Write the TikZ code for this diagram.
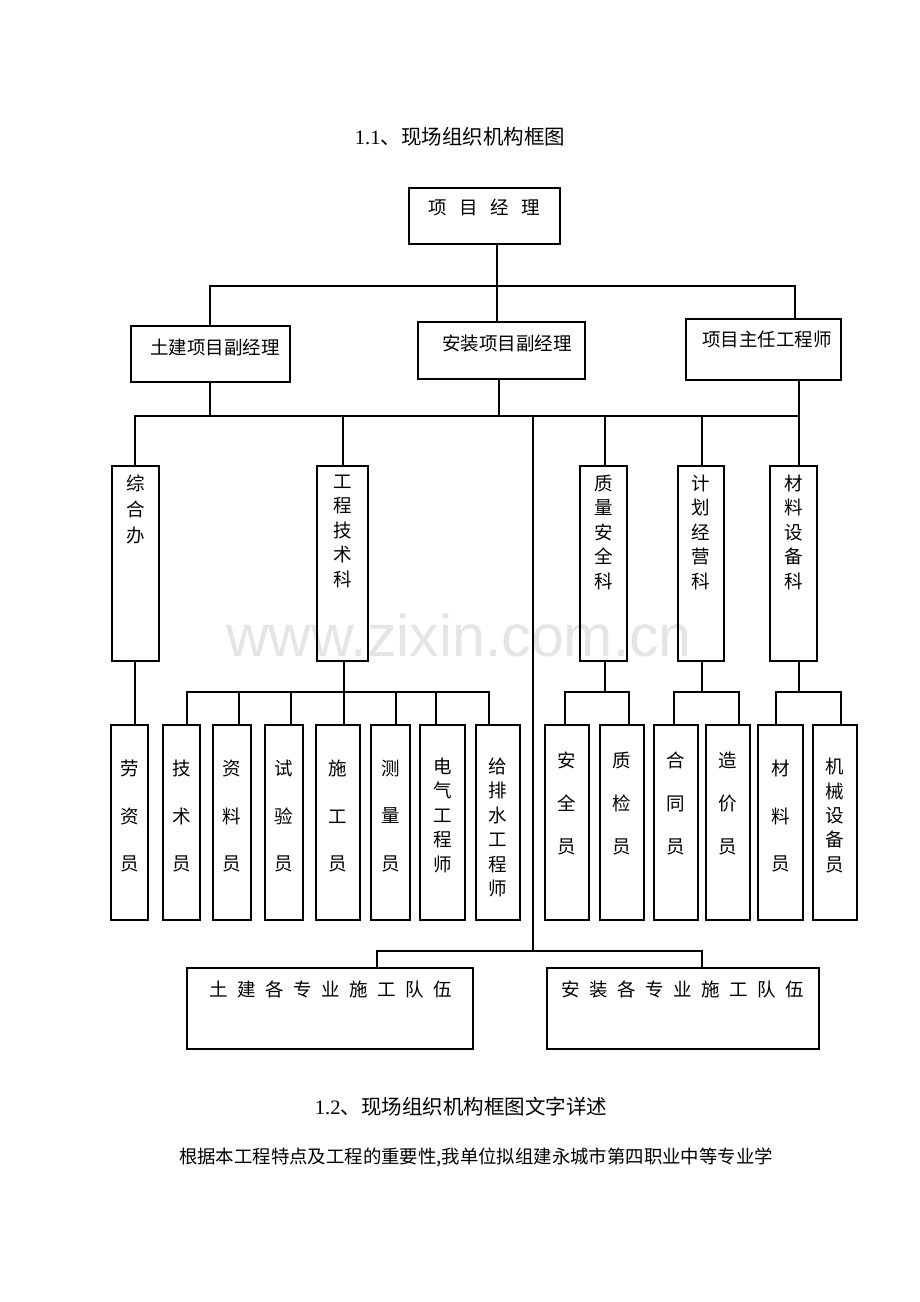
\documentclass[tikz,border=0pt]{standalone}
\usepackage{fontspec}
\setmainfont{Liberation Serif}
\newfontfamily\cjk{Noto Sans CJK SC}
\newfontfamily\wmfont{Liberation Sans}
\newcommand\kg{\hspace{12.5pt}} % spacing in 项目经理
\newcommand\kk{\hspace{9.5pt}}  % spacing in team names
\begin{document}
\begin{tikzpicture}[x=1pt, y=-1pt]
\tikzset{orgbox/.style={draw, line width=2.3pt, inner sep=0pt}, % frame of a post
  wire/.style={line width=1.9pt},                          % connector
  txt/.style={font=\cjk\fontsize{18.5}{22}\selectfont, inner sep=0pt},
  col/.style={inner sep=0pt, align=center, anchor=north, font=\cjk\fontsize{18.5}{#1}\selectfont}, % vertical text
  ttl/.style={inner sep=0pt, font=\fontsize{20.5}{24}\selectfont}}
\useasboundingbox[fill=white] (0,0) rectangle (920,1302);
\node[font=\wmfont\fontsize{59}{59}\selectfont, text=black!10] (wm) at (459,635) {www.zixin.com.cn};
% titles
\node[ttl] (t1) at (460,137) {1.1{\cjk 、现场组织机构框图}};
\node[ttl] (t2) at (461,1107) {1.2{\cjk 、现场组织机构框图文字详述}};
\node[txt, font=\cjk\fontsize{18.4}{22}\selectfont] (body) at (476,1157) {根据本工程特点及工程的重要性,我单位拟组建永城市第四职业中等专业学};
% level 1 and 2
\node[orgbox, minimum width=151pt, minimum height=56pt] (pm) at (484.5,216) {};
\node[txt] (pmt) at (484,207) {项\kg{}目\kg{}经\kg{}理};
\node[orgbox, minimum width=159pt, minimum height=56pt] (dep1) at (210.5,354) {};
\node[txt] (dep1t) at (215,347) {土建项目副经理};
\node[orgbox, minimum width=167pt, minimum height=57pt] (dep2) at (501.5,350.5) {};
\node[txt] (dep2t) at (507,343) {安装项目副经理};
\node[orgbox, minimum width=155pt, minimum height=61pt] (dep3) at (763.5,349.5) {};
\node[txt] (dep3t) at (767,339) {项目主任工程师};
% sections
\node[orgbox, minimum width=47pt, minimum height=195pt] (sec1) at (135.5,563.5) {};
\node[orgbox, minimum width=51pt, minimum height=195pt] (sec2) at (342.5,563.5) {};
\node[orgbox, minimum width=47pt, minimum height=195pt] (sec3) at (603.5,563.5) {};
\node[orgbox, minimum width=46pt, minimum height=195pt] (sec4) at (701,563.5) {};
\node[orgbox, minimum width=47pt, minimum height=195pt] (sec5) at (793.5,563.5) {};
\node[col=26] (sec1t) at ([yshift=-10pt]sec1.north) {综\\合\\办};
\node[col=24.4] (sec2t) at ([yshift=-10pt]sec2.north) {工\\程\\技\\术\\科};
\node[col=24.4] (sec3t) at ([yshift=-10pt]sec3.north) {质\\量\\安\\全\\科};
\node[col=24.4] (sec4t) at ([yshift=-10pt]sec4.north) {计\\划\\经\\营\\科};
\node[col=24.4] (sec5t) at ([yshift=-10pt]sec5.north) {材\\料\\设\\备\\科};
% staff
\foreach \n/\x/\w in {lz/129.5/37, js/181.5/37, zl/232/38, sy/284/38, sg/338/44, cl/390.5/39,
    dq/442.5/45, gps/498/44, aq/567/44, zj/622/44, ht/676/44, zj2/728/44, cly/780.5/45, jx/835/44}
  \node[orgbox, minimum width=\w pt, minimum height=195pt] (\n) at (\x,822.5) {};
\foreach \n/\t in {lz/劳\\资\\员, js/技\\术\\员, zl/资\\料\\员, sy/试\\验\\员, sg/施\\工\\员, cl/测\\量\\员, cly/材\\料\\员}
  \node[col=47.5] (\n t) at ([yshift=-36pt]\n.north) {\t};
\foreach \n/\t in {dq/电\\气\\工\\程\\师, gps/给\\排\\水\\工\\程\\师, jx/机\\械\\设\\备\\员}
  \node[col=24.4] (\n t) at ([yshift=-34pt]\n.north) {\t};
\foreach \n/\t in {aq/安\\全\\员, zj/质\\检\\员, ht/合\\同\\员, zj2/造\\价\\员}
  \node[col=43] (\n t) at ([yshift=-28pt]\n.north) {\t};
% teams
\node[orgbox, minimum width=286pt, minimum height=81pt] (team1) at (330,1008.5) {};
\node[txt] (team1t) at (331,989) {土\kk{}建\kk{}各\kk{}专\kk{}业\kk{}施\kk{}工\kk{}队\kk{}伍};
\node[orgbox, minimum width=272pt, minimum height=81pt] (team2) at (683,1008.5) {};
\node[txt] (team2t) at (683,989) {安\kk{}装\kk{}各\kk{}专\kk{}业\kk{}施\kk{}工\kk{}队\kk{}伍};
% connectors
\coordinate (a0) at (497,286);
\coordinate (a1) at (210,286);
\coordinate (a3) at (795,286);
\draw[wire] (pm.south -| a0) -- (a0) -- (dep2.north -| a0);
\draw[wire] (dep1.north -| a1) |- (a3) -- (dep3.north -| a3);
\coordinate (b1) at (135,416);
\coordinate (b2) at (343,416);
\coordinate (b0) at (533,416);
\coordinate (b3) at (605,416);
\coordinate (b4) at (702,416);
\coordinate (b5) at (799,416);
\coordinate (bm) at (499,416);
\coordinate (bl) at (210,416);
\draw[wire] (sec1.north -| b1) |- (b5) -- (sec5.north -| b5);
\draw[wire] (dep1.south -| bl) -- (bl);
\draw[wire] (dep2.south -| bm) -- (bm);
\draw[wire] (dep3.south -| b5) -- (b5);
\foreach \n/\c in {sec2/b2, sec3/b3, sec4/b4}
  \draw[wire] (\c) -- (\n.north -| \c);
\coordinate (g0) at (533,951);
\coordinate (g1) at (377,951);
\coordinate (g2) at (702,951);
\draw[wire] (b0) -- (g0);
\draw[wire] (team1.north -| g1) |- (g2) -- (team2.north -| g2);
\draw[wire] (sec1.south -| b1) -- (lz.north -| b1);
\coordinate (c1) at (187,692);
\coordinate (c2) at (239,692);
\coordinate (c3) at (291,692);
\coordinate (c4) at (344,692);
\coordinate (c5) at (396,692);
\coordinate (c6) at (436,692);
\coordinate (c7) at (489,692);
\draw[wire] (sec2.south -| c4) -- (c4);
\draw[wire] (js.north -| c1) |- (c7) -- (gps.north -| c7);
\foreach \n/\c in {zl/c2, sy/c3, sg/c4, cl/c5, dq/c6}
  \draw[wire] (\c) -- (\n.north -| \c);
\coordinate (d1) at (565,692);
\coordinate (d2) at (629,692);
\draw[wire] (sec3.south -| b3) -- (b3 |- d1);
\draw[wire] (aq.north -| d1) |- (d2) -- (zj.north -| d2);
\coordinate (e1) at (674,692);
\coordinate (e2) at (739,692);
\draw[wire] (sec4.south -| b4) -- (b4 |- e1);
\draw[wire] (ht.north -| e1) |- (e2) -- (zj2.north -| e2);
\coordinate (f1) at (776,692);
\coordinate (f2) at (841,692);
\draw[wire] (sec5.south -| b5) -- (b5 |- f1);
\draw[wire] (cly.north -| f1) |- (f2) -- (jx.north -| f2);
\end{tikzpicture}
\end{document}
